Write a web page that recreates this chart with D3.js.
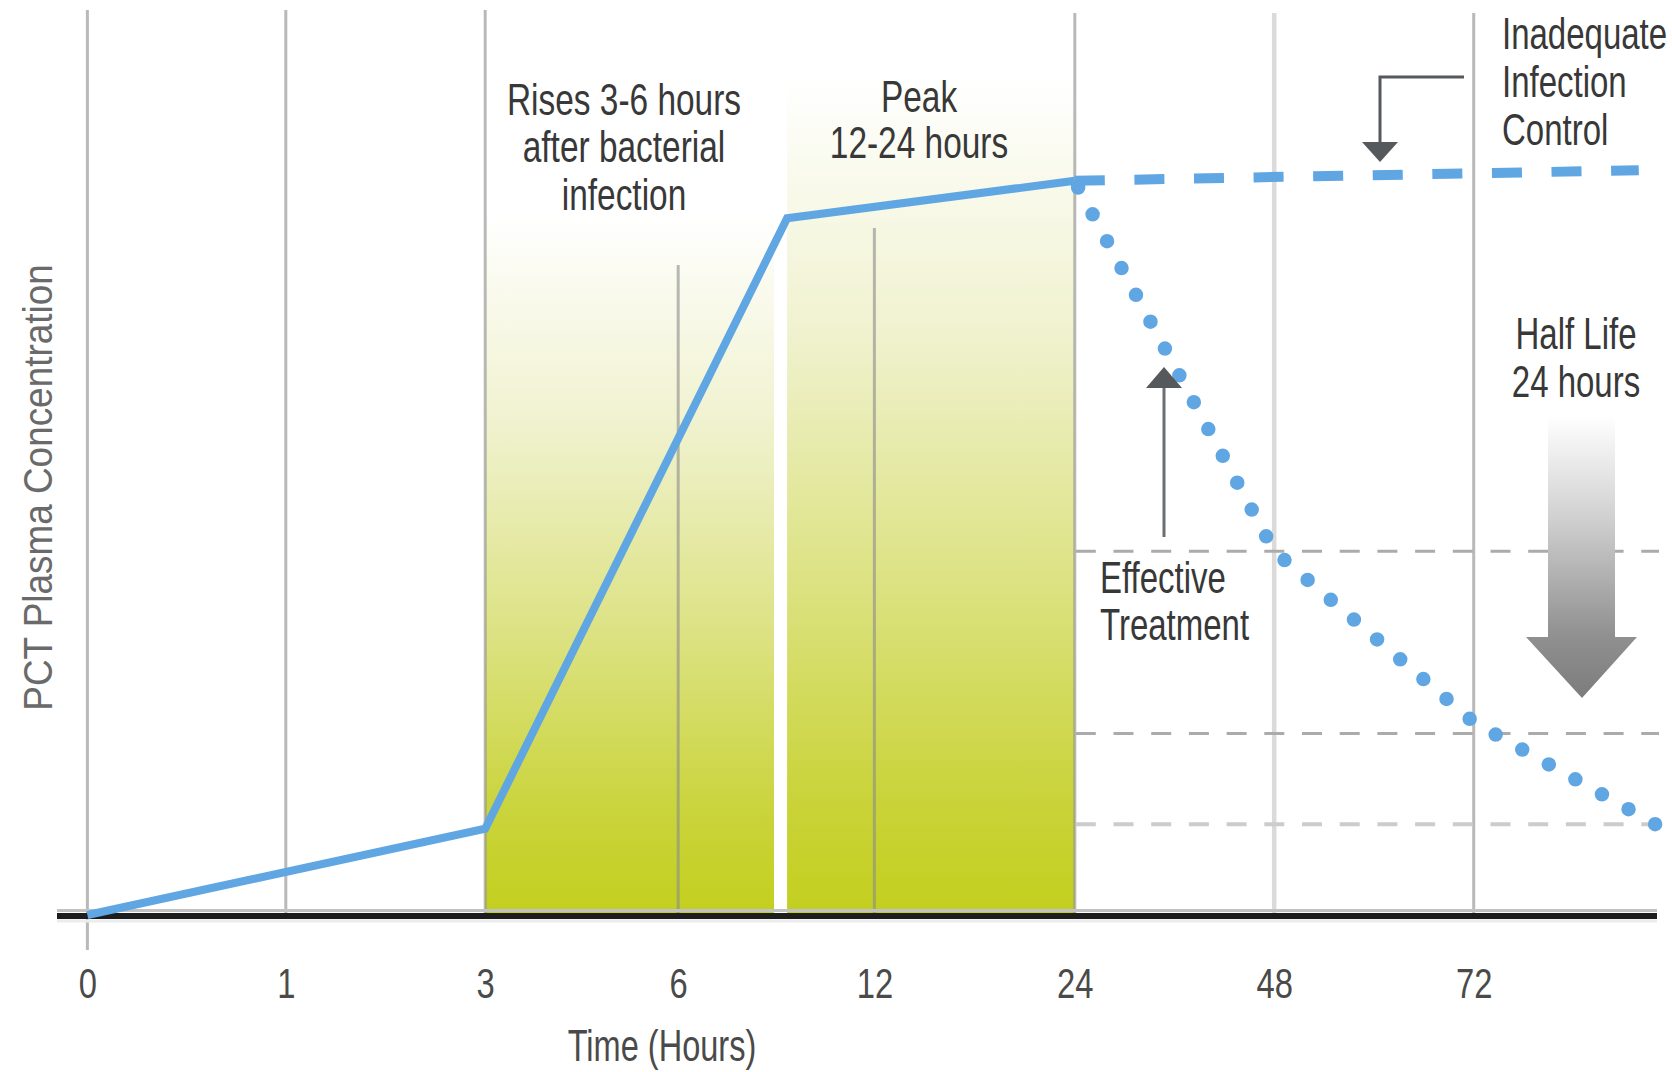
<!DOCTYPE html>
<html>
<head>
<meta charset="utf-8">
<script src="https://cdn.jsdelivr.net/npm/d3@7"></script>
<style>
  html, body { margin: 0; padding: 0; background: #ffffff; }
  svg { display: block; }
  text { font-family: "Liberation Sans", Arial, Helvetica, sans-serif; }
</style>
</head>
<body>
<svg id="chart" width="1672" height="1072"></svg>
<script>
// ---------------- DATA ----------------
const axisHours   = [0, 1, 3, 6, 12, 24, 48, 72, 96];          // stops of the (non-linear) time axis
const tickHours   = [0, 1, 3, 6, 12, 24, 48, 72];
const tickLabels  = ["0", "1", "3", "6", "12", "24", "48", "72"];

const riseHours   = [0, 3, 9.33, 24];                            // PCT rise and peak (solid)
const riseValues  = [0, 11.5, 92.9, 97.9];

const inadequateHours  = [24, 92];                               // inadequate infection control (dashed)
const inadequateValues = [97.9, 99.3];

const effectiveHours  = [24.4, 48, 72, 94];                      // effective treatment (dotted)
const effectiveValues = [97.0, 48.5, 25.7, 12.1];

const halfLifeLevels = [48.5, 24.2, 12.1];                       // half-life reference levels

const phaseStart = [3, 9.33];                                    // shaded phases
const phaseEnd   = [8.93, 24];
const phaseNames = ["rise", "peak"];

const riseLabel       = ["Rises 3-6 hours", "after bacterial", "infection"];
const peakLabel       = ["Peak", "12-24 hours"];
const inadequateLabel = ["Inadequate", "Infection", "Control"];
const halfLifeLabel   = ["Half Life", "24 hours"];
const effectiveLabel  = ["Effective", "Treatment"];
const xTitle = "Time (Hours)";
const yTitle = "PCT Plasma Concentration";

// ---------------- SETUP ----------------
const svg = d3.select("#chart");
const BLUE = "#5fa6e3";
const TEXT = "#383838";

const xRange = [87.4, 285.8, 485.2, 678.2, 874.4, 1074.8, 1274.2, 1473.7, 1671.8];
const x = d3.scaleLinear().domain(axisHours).range(xRange);
const y = d3.scaleLinear().domain([0, 100]).range([915, 165]);

const defs = svg.append("defs");
const g1 = defs.append("linearGradient").attr("id", "greenFade")
  .attr("x1", 0).attr("y1", 0).attr("x2", 0).attr("y2", 1);
[[0, "#ffffff"], [0.3, "#f0f2cf"], [0.6, "#dce282"], [0.85, "#cad43c"], [1, "#c3cf1e"]]
  .forEach(s => g1.append("stop").attr("offset", s[0]).attr("stop-color", s[1]));

const g2 = defs.append("linearGradient").attr("id", "greyFade")
  .attr("gradientUnits", "userSpaceOnUse")
  .attr("x1", 0).attr("y1", 416).attr("x2", 0).attr("y2", 698);
[[0, "#ffffff"], [0.35, "#d2d2d2"], [0.78, "#909090"], [1, "#7c7c7c"]]
  .forEach(s => g2.append("stop").attr("offset", s[0]).attr("stop-color", s[1]));

// ---------------- SHADED PHASES ----------------
const phaseTopPx = [213, 80];
svg.append("g").selectAll("rect")
  .data(phaseNames)
  .join("rect")
  .attr("x", (d, i) => x(phaseStart[i]))
  .attr("width", (d, i) => x(phaseEnd[i]) - x(phaseStart[i]))
  .attr("y", (d, i) => phaseTopPx[i])
  .attr("height", (d, i) => y(0) - phaseTopPx[i])
  .attr("fill", "url(#greenFade)");

// ---------------- GRID LINES ----------------
const gridTop = {0: 10, 1: 10, 3: 10, 6: 265, 12: 228, 24: 13, 48: 13, 72: 13};
svg.append("g").selectAll("line")
  .data(tickHours)
  .join("line")
  .attr("x1", d => x(d)).attr("x2", d => x(d))
  .attr("y1", d => gridTop[d])
  .attr("y2", d => d === 0 ? 950 : y(0))
  .attr("stroke", d => d === 48 ? "#bbbbbb" : "#8a8a8a")
  .attr("stroke-opacity", d => d === 48 ? 0.55 : 0.6)
  .attr("stroke-width", d => d === 48 ? 4.5 : 3);

// ---------------- HALF-LIFE REFERENCE LINES ----------------
svg.append("g").selectAll("line")
  .data(halfLifeLevels)
  .join("line")
  .attr("x1", x(24) + 1).attr("x2", 1659)
  .attr("y1", d => y(d)).attr("y2", d => y(d))
  .attr("stroke", (d, i) => i === 2 ? "#cccccc" : "#ababab")
  .attr("stroke-width", (d, i) => i === 2 ? 4 : 3)
  .attr("stroke-dasharray", "20 17.7");

// ---------------- BASELINE ----------------
svg.append("line").attr("x1", 57).attr("x2", 1657).attr("y1", 910.5).attr("y2", 910.5)
  .attr("stroke", "#c2c2c2").attr("stroke-width", 3);
svg.append("line").attr("x1", 57).attr("x2", 1657).attr("y1", 921).attr("y2", 921)
  .attr("stroke", "#ececec").attr("stroke-width", 3);
svg.append("line").attr("x1", 57).attr("x2", 1657).attr("y1", y(0) + 1).attr("y2", y(0) + 1)
  .attr("stroke", "#1d1d1d").attr("stroke-width", 6);

// ---------------- DATA LINES ----------------
const line = d3.line().x(d => x(d[0])).y(d => y(d[1]));

const dotted = svg.append("path")
  .attr("d", line(effectiveHours.map((h, i) => [h, effectiveValues[i]])))
  .attr("fill", "none").attr("stroke", BLUE).attr("stroke-width", 14.5)
  .attr("stroke-linecap", "round");
const L = dotted.node().getTotalLength();
const nDots = Math.round(L / 30.5);
const gap = (L - 0.2) / nDots;
dotted.attr("stroke-dasharray", `0 ${gap}`);

svg.append("path")
  .attr("d", line(inadequateHours.map((h, i) => [h, inadequateValues[i]])))
  .attr("fill", "none").attr("stroke", BLUE).attr("stroke-width", 10)
  .attr("stroke-dasharray", "30 29.6");

svg.append("path")
  .attr("d", line(riseHours.map((h, i) => [h, riseValues[i]])))
  .attr("fill", "none").attr("stroke", BLUE).attr("stroke-width", 8)
  .attr("stroke-linejoin", "miter");

// ---------------- ANNOTATION ARROWS ----------------
const ARROW = "#55595c";
svg.append("path").attr("d", "M1464,77 H1380 V145").attr("fill", "none")
  .attr("stroke", ARROW).attr("stroke-width", 3);
svg.append("path").attr("d", "M1362,142 L1398,142 L1380,162 Z").attr("fill", ARROW);
svg.append("line").attr("x1", 1164).attr("x2", 1164).attr("y1", 537).attr("y2", 385)
  .attr("stroke", "#6a6e72").attr("stroke-width", 3);
svg.append("path").attr("d", "M1146,388 L1182,388 L1164,367 Z").attr("fill", ARROW);
svg.append("path")
  .attr("d", "M1548,416 H1615 V637 H1637 L1582,698 L1526,637 H1548 Z")
  .attr("fill", "url(#greyFade)");

// ---------------- TEXT ----------------
function label(lines, xPos, baselines, anchor, size, sx, color) {
  lines.forEach((t, i) => {
    svg.append("text")
      .attr("transform", `translate(${xPos},${baselines[i]}) scale(${sx},1)`)
      .attr("text-anchor", anchor)
      .attr("font-size", size)
      .attr("fill", color)
      .text(t);
  });
}
label(riseLabel, 624, [115, 162, 210], "middle", 44, 0.76, TEXT);
label(peakLabel, 919, [112, 158], "middle", 44, 0.76, TEXT);
label(inadequateLabel, 1502, [49, 97, 145], "start", 44, 0.75, TEXT);
label(halfLifeLabel, 1576, [349, 397], "middle", 44, 0.75, TEXT);
label(effectiveLabel, 1100, [593, 640], "start", 44, 0.75, TEXT);
label([xTitle], 662, [1061], "middle", 44, 0.74, "#4a4a4a");

svg.append("text")
  .attr("transform", "translate(51.5,487.5) rotate(-90) scale(0.9,1)")
  .attr("text-anchor", "middle")
  .attr("font-size", 41)
  .attr("fill", "#6a6a6a")
  .text(yTitle);

// ---------------- AXIS ----------------
const axis = d3.axisBottom(x)
  .tickValues(tickHours)
  .tickFormat((d, i) => tickLabels[i])
  .tickSize(0)
  .tickPadding(53);
const ax = svg.append("g").attr("transform", `translate(0,${y(0)})`).call(axis);
ax.select(".domain").remove();
ax.selectAll("text")
  .attr("font-size", 42)
  .attr("font-family", "'Liberation Sans', Arial, sans-serif")
  .attr("fill", "#4a4a4a")
  .attr("transform", "scale(0.78,1)");
</script>
</body>
</html>
